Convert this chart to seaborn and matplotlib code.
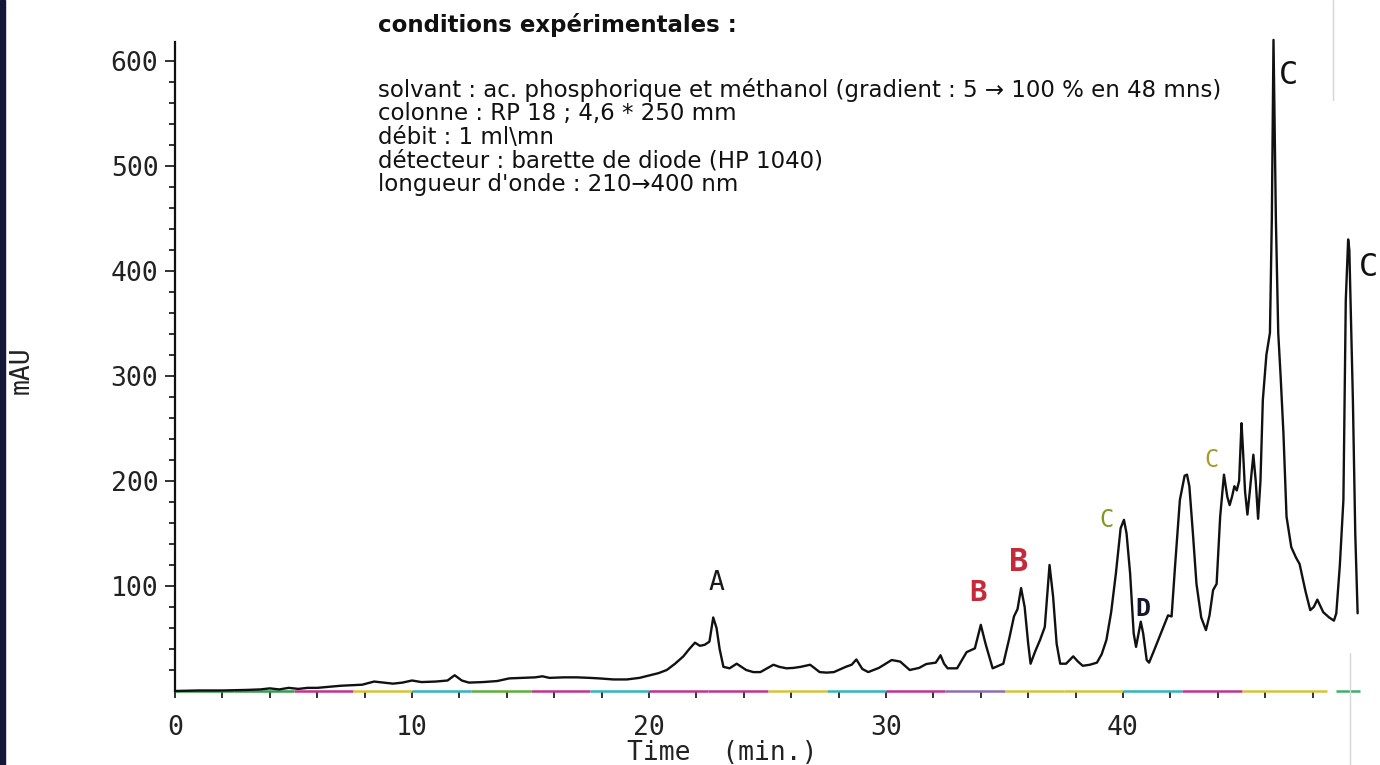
import matplotlib
matplotlib.use("Agg")
import matplotlib.pyplot as plt
from matplotlib.collections import LineCollection
from matplotlib.patches import Rectangle
from matplotlib.lines import Line2D
import pandas as pd
import seaborn as sns

# HPLC trace: retention time (min) and detector response (mAU)
time_min = [
    0.0, 1.0, 2.0, 3.0, 3.6, 4.0, 4.4, 4.8, 5.2, 5.6, 6.0, 6.5, 7.0, 7.5, 7.9,
    8.4, 8.8, 9.2, 9.6, 10.0, 10.4, 11.0, 11.5, 11.8, 12.1, 12.4, 13.0, 13.6,
    14.1, 14.6, 15.2, 15.5, 15.8, 16.4, 16.95, 17.5, 17.9, 18.5, 19.06, 19.6,
    20.04, 20.4, 20.75, 21.1, 21.45, 21.7, 21.94, 22.15, 22.35, 22.55, 22.71,
    22.85, 22.98, 23.14, 23.4, 23.7, 24.1, 24.4, 24.7, 25.25, 25.5, 25.8, 26.1,
    26.4, 26.8, 27.2, 27.5, 27.8, 28.3, 28.55, 28.75, 29.0, 29.25, 29.7, 30.24,
    30.6, 31.0, 31.4, 31.7, 32.1, 32.3, 32.45, 32.6, 33.0, 33.4, 33.75, 34.0,
    34.2, 34.5, 34.95, 35.2, 35.4, 35.55, 35.7, 35.85, 36.0, 36.1, 36.3, 36.5,
    36.7, 36.9, 37.05, 37.2, 37.35, 37.6, 37.9, 38.1, 38.3, 38.6, 38.9, 39.1,
    39.3, 39.5, 39.7, 39.9, 40.04, 40.15, 40.3, 40.45, 40.55, 40.75, 40.85,
    41.0, 41.1, 41.3, 41.6, 41.9, 42.05, 42.2, 42.4, 42.6, 42.7, 42.8, 42.95,
    43.1, 43.3, 43.5, 43.65, 43.8, 43.95, 44.1, 44.26, 44.4, 44.5, 44.6, 44.7,
    44.8, 44.9, 45.0, 45.05, 45.15, 45.25, 45.35, 45.5, 45.6, 45.7, 45.8, 45.9,
    46.05, 46.2, 46.28, 46.35, 46.45, 46.55, 46.65, 46.77, 46.9, 47.1, 47.3,
    47.45, 47.7, 47.9, 48.05, 48.2, 48.45, 48.7, 48.9, 49.0, 49.15, 49.3, 49.4,
    49.5, 49.55, 49.7, 49.8, 49.9,
]
absorbance_mau = [
    0, 0.5, 0.5, 1, 1.5, 2.5, 1.5, 3, 2, 3, 3, 4, 5, 5.5, 6,
    9, 8, 7, 8, 10, 8.5, 9, 10, 15, 10, 8, 8.5, 9.5,
    12, 12.5, 13, 14, 12.5, 13, 13, 12.5, 12, 11, 11, 12.5,
    15, 17, 20, 26, 33, 40, 46, 43, 44, 47, 70,
    60, 40, 23, 21.6, 26, 20, 18, 18, 25, 23, 21.6, 22,
    23, 25, 18, 17.5, 18, 23, 25, 30, 21, 18, 22, 29.5,
    28, 20, 22, 25.7, 27, 34, 26, 21.6, 21.6, 37, 40.6, 63,
    45, 21.6, 26, 50, 71, 78, 98, 80, 45, 26, 38, 48.6,
    61, 120, 90, 45, 26, 26, 33, 28, 24, 25, 27, 35,
    48.6, 75, 112, 155, 163, 150, 112, 55, 42, 66, 55,
    29.5, 27, 38, 55, 72, 71, 120, 182, 205, 206, 195, 150,
    102, 70, 58, 72, 96, 102, 166, 206, 185, 177, 185, 195,
    191, 200, 255, 235, 190, 168, 190, 225, 200, 164, 200, 277,
    320, 341, 450, 620, 450, 341, 300, 245, 166, 137, 127,
    121, 95, 77, 80, 87, 75, 70, 67, 74, 120, 182, 372,
    430, 420, 277, 150, 74,
]

# Peak annotations
peak_names = ["A", "B", "B", "C", "D", "C", "C", "C"]
peak_label_t = [22.85, 33.9, 35.6, 39.3, 40.85, 43.75, 47.0, 50.35]
peak_label_v = [103, 93, 122, 163, 78, 220, 586, 403]
peak_colors = ["#1a1a1a", "#c42a3a", "#c42a3a", "#7a9a22", "#15152e",
               "#a89a2c", "#111111", "#111111"]
peak_sizes = [19, 21, 23, 17, 18, 17, 23, 23]

x_major = [0, 10, 20, 30, 40]
x_minor = [2, 4, 6, 8, 12, 14, 16, 18, 22, 24, 26, 28, 32, 34, 36, 38,
           42, 44, 46, 48]
y_major = [100, 200, 300, 400, 500, 600]
y_minor = [v for v in range(20, 600, 20) if v % 100]

conditions_title = "conditions expérimentales :"
conditions_lines = [
    "solvant : ac. phosphorique et méthanol (gradient : 5 \u2192 100 % en 48 mns)",
    "colonne : RP 18 ; 4,6 * 250 mm",
    "débit : 1 ml\\mn",
    "détecteur : barette de diode (HP 1040)",
    "longueur d'onde : 210\u2192400 nm",
]

sns.set_theme(style="white")
plt.rcParams["font.family"] = ["DejaVu Sans"]
mono = ["DejaVu Sans Mono", "DejaVu Sans"]

W, H = 1380, 765
fig = plt.figure(figsize=(W / 100, H / 100), dpi=100)
fig.patch.set_facecolor("white")
ax = fig.add_axes([175 / W, 74 / H, 1185 / W, 649 / H])
ax.set_facecolor("white")

df = pd.DataFrame({"time": time_min, "mAU": absorbance_mau})
sns.lineplot(data=df, x="time", y="mAU", ax=ax, color="#111111",
             linewidth=1.7, estimator=None, sort=False)
for ln in ax.lines:
    ln.set_clip_on(False)

ax.set_xlim(0, 50)
ax.set_ylim(0, 618)

# spines: plain left axis, plotter-coloured baseline
for side in ("top", "right", "bottom"):
    ax.spines[side].set_visible(False)
ax.spines["left"].set_color("#111111")
ax.spines["left"].set_linewidth(1.6)

seg_colors = ["#2f9e4f", "#2f9e4f", "#c2338f", "#d8c23a", "#2fb4c0",
              "#5fae3a", "#c2338f", "#2fb4c0", "#c2338f", "#c2338f",
              "#d8c23a", "#2fb4c0", "#c2338f", "#8a6fb0", "#d8c23a",
              "#d8c23a", "#2fb4c0", "#c2338f", "#d8c23a", "#3fb06a"]
edges = [i * 2.5 for i in range(21)]
segs = [[(edges[i], 0), (edges[i + 1], 0)] for i in range(20)]
segs[-2] = [(edges[-3], 0), (48.6, 0)]
segs[-1] = [(49.0, 0), (50.0, 0)]
base = LineCollection(segs, colors=seg_colors, linewidths=1.8, clip_on=False,
                      zorder=1)
ax.add_collection(base)

ax.set_xticks(x_major)
ax.set_xticks(x_minor, minor=True)
ax.set_yticks(y_major)
ax.set_yticks(y_minor, minor=True)
ax.set_xticklabels([str(v) for v in x_major], fontfamily=mono, fontsize=19)
ax.set_yticklabels([str(v) for v in y_major], fontfamily=mono, fontsize=19)
ax.tick_params(axis="x", which="both", direction="out", length=5, width=1.3,
               color="#222222", pad=12, bottom=True)
ax.tick_params(axis="y", which="major", direction="out", length=7, width=1.3,
               color="#222222", pad=5, left=True)
ax.tick_params(axis="y", which="minor", direction="out", length=4, width=1.3,
               color="#222222", left=True)
for lbl in ax.get_xticklabels() + ax.get_yticklabels():
    lbl.set_color("#222222")

ax.set_xlabel("Time  (min.)", fontfamily=mono, fontsize=19, color="#222222")
ax.xaxis.label.set_va("center")
ax.xaxis.set_label_coords((722 - 175) / 1185, (691 - 753) / 649)
ax.set_ylabel("mAU", fontfamily=mono, fontsize=19, color="#222222")
ax.yaxis.label.set_va("center")
ax.yaxis.set_label_coords((22 - 175) / 1185, (691 - 370) / 649)

for name, t, v, c, s in zip(peak_names, peak_label_t, peak_label_v,
                            peak_colors, peak_sizes):
    ax.text(t, v, name, color=c, fontsize=s, ha="center", va="center",
            fontfamily=mono, clip_on=False,
            fontweight="bold" if name in ("B", "D") else "normal")

# experimental conditions block
fig.text(378 / W, 1 - 25 / H, conditions_title, fontsize=16.5,
         fontweight="bold", ha="left", va="center", color="#111111")
for i, line in enumerate(conditions_lines):
    fig.text(378 / W, 1 - (90 + 23.5 * i) / H, line, fontsize=16.5,
             ha="left", va="center", color="#111111")

# page edge of the scanned sheet
fig.add_artist(Rectangle((0, 0), 5 / W, 1, transform=fig.transFigure,
                         color="#16163a", zorder=5))
fig.add_artist(Line2D([1333 / W, 1333 / W], [1 - 100 / H, 1],
                      transform=fig.transFigure, color="#d6d6d6", lw=1))
fig.add_artist(Line2D([1350 / W, 1350 / W], [0, 1 - 653 / H],
                      transform=fig.transFigure, color="#d6d6d6", lw=1))

fig.savefig("out.png", dpi=100, facecolor="white")
